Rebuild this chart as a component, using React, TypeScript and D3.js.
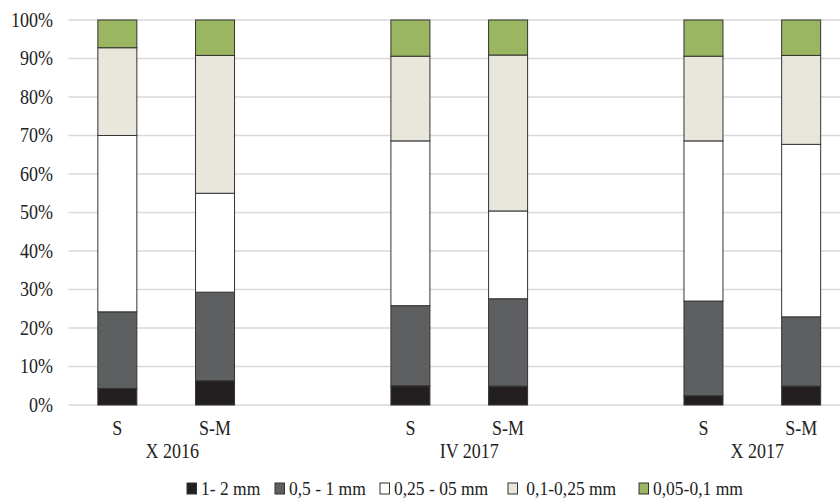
import React from 'react';
import { scaleBand, scaleLinear, stack } from 'd3';

const width = 840;
const height = 498;

// slots: two bars per period, blank slot between periods
const slots = ['a-S', 'a-SM', 'gap1', 'b-S', 'b-SM', 'gap2', 'c-S', 'c-SM'];
const barSlots = ['a-S', 'a-SM', 'b-S', 'b-SM', 'c-S', 'c-SM'];
const barLabels = ['S', 'S-M', 'S', 'S-M', 'S', 'S-M'];
const groupLabels = ['X 2016', 'IV 2017', 'X 2017'];
const groupSlots = [['a-S', 'a-SM'], ['b-S', 'b-SM'], ['c-S', 'c-SM']];

const seriesNames = ['1- 2 mm', '0,5 - 1 mm', '0,25 - 05 mm', ' 0,1-0,25 mm', '0,05-0,1 mm'];
const seriesColors = ['#231f20', '#5d5f60', '#ffffff', '#e9e6dc', '#9bb661'];

const s1 = [4.3, 6.3, 5.0, 4.9, 2.4, 4.9];
const s2 = [19.9, 23.0, 20.8, 22.7, 24.6, 18.0];
const s3 = [45.8, 25.7, 42.8, 22.8, 41.6, 44.8];
const s4 = [22.8, 35.8, 22.0, 40.5, 22.0, 23.1];
const s5 = [7.2, 9.2, 9.4, 9.1, 9.4, 9.2];

const yTicks = [0, 10, 20, 30, 40, 50, 60, 70, 80, 90, 100];

const margin = { left: 68.5, right: 850, top: 20, bottom: 405 };
const groupDx = [6, 10, 5];

// text in the picture is a bit taller than wide
const Txt = ({ x, y, anchor = 'start', size = 18, children }: any) => (
  <text transform={`translate(${x},${y}) scale(1,1.12)`} textAnchor={anchor} fontSize={size} fill="#222" style={{ whiteSpace: 'pre' }}>
    {children}
  </text>
);

function App() {
  const x = scaleBand().domain(slots).range([margin.left, margin.right]);
  const y = scaleLinear().domain([0, 100]).range([margin.bottom, margin.top]);
  const barW = 39;

  const table = barSlots.map((slot, i) => ({
    slot,
    k0: s1[i], k1: s2[i], k2: s3[i], k3: s4[i], k4: s5[i],
  }));
  const layers = stack<any>().keys(['k0', 'k1', 'k2', 'k3', 'k4'])(table);

  const font = '"Liberation Serif", "Times New Roman", serif';
  const legendX = [187, 275, 380, 508, 639];

  return (
    <svg width={width} height={height} style={{ position: 'absolute', left: 0, top: 0, background: '#fff' }} fontFamily={font}>
      {yTicks.map(t => (
        <g key={t}>
          <line x1={margin.left} x2={width} y1={y(t)} y2={y(t)} stroke="#d9d9d9" strokeWidth={1.3} />
          <Txt x={53} y={y(t) + 6.5} anchor="end">{t}%</Txt>
        </g>
      ))}
      {layers.map((layer, li) => (
        <g key={li}>
          {layer.map((d, i) => {
            const cx = x(d.data.slot)! + x.bandwidth() / 2;
            return (
              <rect key={i} x={cx - barW / 2} y={y(d[1])} width={barW} height={y(d[0]) - y(d[1])}
                fill={seriesColors[li]} stroke="#333" strokeWidth={1} />
            );
          })}
        </g>
      ))}
      {barSlots.map((slot, i) => (
        <Txt key={slot} x={x(slot)! + x.bandwidth() / 2} y={435} anchor="middle">{barLabels[i]}</Txt>
      ))}
      {groupLabels.map((g, i) => {
        const a = x(groupSlots[i][0])! + x.bandwidth() / 2;
        const b = x(groupSlots[i][1])! + x.bandwidth() / 2;
        return <Txt key={g} x={(a + b) / 2 + groupDx[i]} y={458} anchor="middle">{g}</Txt>;
      })}
      {seriesNames.map((n, i) => (
        <g key={n}>
          <rect x={legendX[i]} y={483} width={9.5} height={11} fill={seriesColors[i]} stroke="#333" strokeWidth={1} />
          <Txt x={legendX[i] + 14} y={495} size={17.5}>{n}</Txt>
        </g>
      ))}
    </svg>
  );
}

export default App;
